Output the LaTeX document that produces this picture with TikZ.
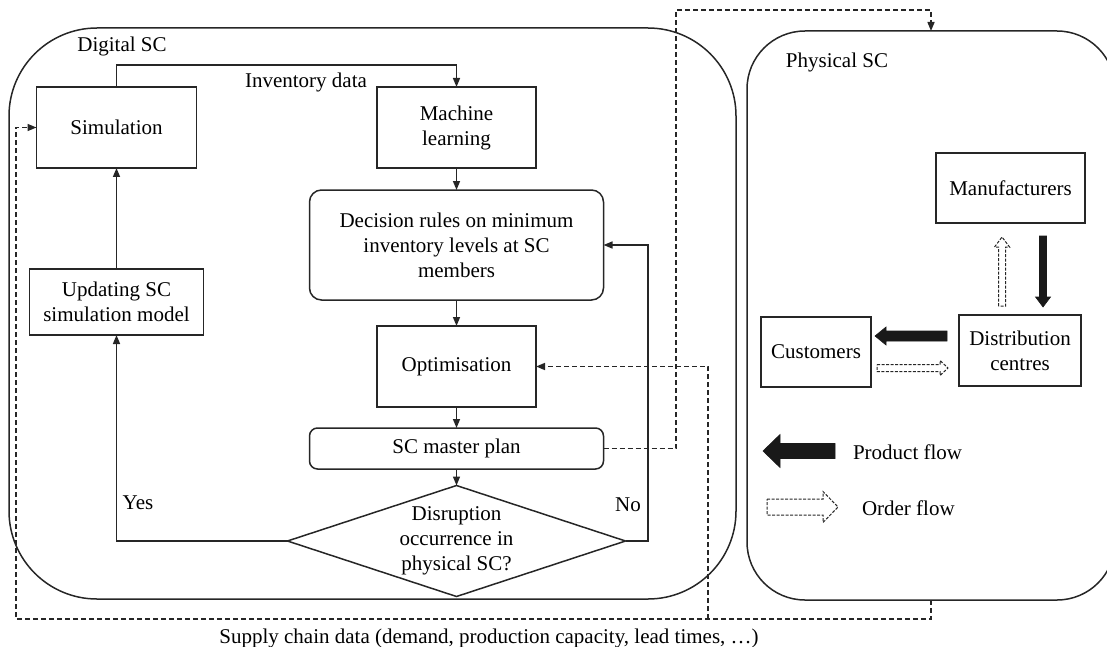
\documentclass[tikz,border=0pt]{standalone}
\usepackage{fontspec}
\setmainfont{Liberation Serif}
\usetikzlibrary{arrows.meta,shapes.geometric,calc}

% Block arrow: style, tail point, direction angle, length, shaft width, head width, head length
\newcommand{\flowarrow}[7]{%
  \begin{scope}[shift={#2},rotate=#3]
    \path[#1] (0,{-(#5)/2}) -- ({#4-#7},{-(#5)/2}) -- ({#4-#7},{-(#6)/2}) -- (#4,0)
      -- ({#4-#7},{(#6)/2}) -- ({#4-#7},{(#5)/2}) -- (0,{(#5)/2}) -- cycle;
  \end{scope}}

\begin{document}
\begin{tikzpicture}[x=1pt,y=-1pt,
  font=\fontsize{21}{25}\selectfont,
  every node/.style={outer sep=0pt,inner sep=0pt},
  container/.style={draw=black!85,line width=1.5pt},
  box/.style={draw=black!85,line width=1.5pt,align=center},
  roundbox/.style={box,rounded corners=#1},
  link/.style={draw=black!85,line width=1.5pt,-{Triangle[length=9pt,width=7pt]}},
  datalink/.style={draw=black!85,line width=1.5pt,dash pattern=on 5pt off 3pt,-{Triangle[length=9pt,width=7pt]}},
  productflow/.style={fill=black!90,draw=black!90,line width=0.6pt},
  orderflow/.style={draw=black!85,fill=white,line width=1pt,dash pattern=on 3pt off 1.5pt},
]
\path[use as bounding box] (0,0) rectangle (1107,647);
\clip (0,0) rectangle (1107,647);

% containers
\node[container,rounded corners=88pt,minimum width=727pt,minimum height=571pt] (digital) at (372.5,313.5) {};
\node[container,rounded corners=58pt,minimum width=368pt,minimum height=569pt] (phys) at (931,315.5) {};
\node (diglabel) at (122,46) {Digital SC};
\node (phylabel) at (837,62) {Physical SC};

% digital supply chain
\node[box,minimum width=160pt,minimum height=81pt] (sim) at (116.5,127.5) {Simulation};
\node[box,minimum width=159pt,minimum height=81pt] (ml) at (456.5,127.5) {Machine\\learning};
\node[roundbox=12pt,minimum width=294pt,minimum height=110pt] (dec) at (456.5,245) {Decision rules on minimum\\inventory levels at SC\\members};
\node[box,minimum width=159pt,minimum height=81pt] (opt) at (456.5,366.5) {Optimisation};
\node[roundbox=8pt,minimum width=294pt,minimum height=41pt] (plan) at (456.5,448.5) {SC master plan};
\node[draw=black!85,diamond,line width=1.5pt,minimum width=338pt,minimum height=111pt] (dia) at (456.5,541) {};
\node[align=center] (diatext) at (dia.center) {Disruption\\occurrence in\\physical SC?};
\node[box,minimum width=174pt,minimum height=66pt] (upd) at (116.5,302) {Updating SC\\simulation model};

\coordinate (invmid) at (300,65);
\draw[link] (sim.north) |- (invmid) -| (ml.north);
\node (invlabel) at (306,82) {Inventory data};
\draw[link] (ml.south) -- (dec.north);
\draw[link] (dec.south) -- (opt.north);
\draw[link] (opt.south) -- (plan.north);
\draw[link] (plan.south) -- (dia.north);
\draw[link] (dia.west) -| (upd.south);
\draw[link] (upd.north) -- (sim.south);
\node (yes) at (138,503) {Yes};
\coordinate (noturn) at (648,245);
\draw[link] (dia.east) -| (noturn) -- (dec.east);
\node (no) at (628,505) {No};

% data exchange between the two supply chains
\coordinate (uplink) at (676,10);
\draw[datalink] (plan.east) -| (uplink) -| (phys.north);
\coordinate (feedback) at (16,619);
\draw[datalink] (phys.south) |- (feedback) |- (sim.west);
\coordinate (branch) at (708,619);
\draw[datalink] (branch) |- (opt.east);
\node (supply) at (489,638) {Supply chain data (demand, production capacity, lead times, …)};

% physical supply chain
\node[box,minimum width=149pt,minimum height=70pt] (man) at (1010.5,188) {Manufacturers};
\node[box,minimum width=122pt,minimum height=71pt] (dist) at (1020,350.5) {Distribution\\centres};
\node[box,minimum width=110pt,minimum height=70pt] (cust) at (816,352) {Customers};

\flowarrow{productflow}{(1043,236)}{-90}{71}{7}{15}{10}
\flowarrow{orderflow}{(1002,306)}{90}{69}{7}{15}{10}
\flowarrow{productflow}{(947,336)}{180}{72}{10}{18}{11}
\flowarrow{orderflow}{(877,368)}{0}{71}{7}{15}{8}

% legend
\flowarrow{productflow}{(835,451)}{180}{72}{15}{33}{17}
\node[anchor=west] (prodlabel) at (853,452) {Product flow};
\flowarrow{orderflow}{(767,507)}{0}{71}{16}{31}{15}
\node[anchor=west] (ordlabel) at (862,508) {Order flow};
\end{tikzpicture}
\end{document}
